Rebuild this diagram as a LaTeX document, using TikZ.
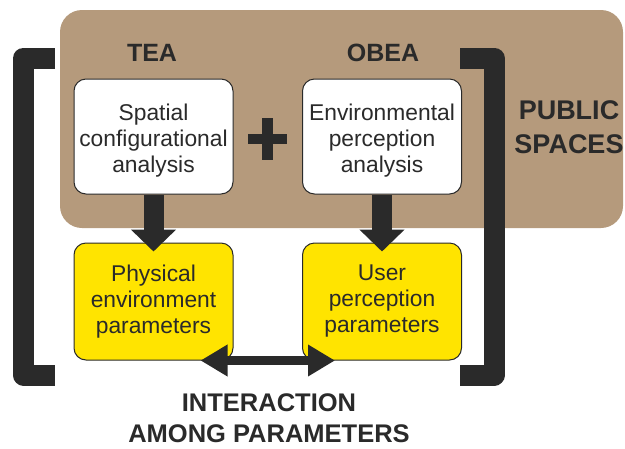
\documentclass[tikz,border=0pt]{standalone}
\usepackage{fontspec}
\setmainfont{Liberation Sans}
\usetikzlibrary{arrows.meta}
\definecolor{brownbg}{RGB}{181,154,124}
\definecolor{ink}{RGB}{42,42,42}
\definecolor{yel}{RGB}{255,228,0}
\newcommand{\tallstrut}{\rule{0pt}{25.5pt}}
\tikzset{
 box/.style={draw=ink, line width=1pt, rounded corners=12pt, minimum width=159pt, minimum height=115pt, align=center, text=ink, font=\fontsize{22.8}{26}\selectfont, inner sep=0pt},
 whitebox/.style={box, fill=white},
 yelbox/.style={box, fill=yel, minimum height=117pt},
 title/.style={font=\bfseries\fontsize{25}{30}\selectfont, text=ink, align=center},
 bigtitle/.style={font=\bfseries\fontsize{27}{34}\selectfont, text=ink, align=center},
 bracket/.style={draw=ink, line width=21pt, line join=round},
 blockarrow/.style={draw=ink, line width=20pt, -{Triangle[width=44pt,length=22pt]}},
 linkarrow/.style={draw=ink, line width=9pt, {Triangle[width=30pt,length=27pt]}-{Triangle[width=30pt,length=27pt]}},
 plusbar/.style={draw=ink, line width=10.5pt},
}
\begin{document}
\begin{tikzpicture}[x=1pt,y=-1pt]
\useasboundingbox (0,0) rectangle (625,448);
% background
\fill[brownbg, rounded corners=22pt] (60,10) rectangle (623,228);
% brackets
\draw[bracket] (55,58) -- (23.5,58) -- (23.5,375) -- (55,375);
\draw[bracket] (460,58) -- (494,58) -- (494,375) -- (460,375);
% titles
\node[title] (tea) at (152,53) {TEA};
\node[title] (obea) at (383,53) {OBEA};
\node[bigtitle] (public) at (569,127) {PUBLIC\\SPACES};
% boxes
\node[whitebox] (spatial) at (153.5,136.5) {\tallstrut Spatial\\configurational\\analysis};
\node[whitebox] (envper) at (382,136.5) {\tallstrut Environmental\\perception\\analysis};
\node[yelbox] (phys) at (153.5,301.5) {Physical\\environment\\parameters};
\node[yelbox] (user) at (382,301.5) {User\\perception\\parameters};
% plus
\coordinate (plus) at (267.5,139);
\draw[plusbar] ([xshift=-19.5pt]plus) -- ([xshift=19.5pt]plus);
\draw[plusbar] ([yshift=21pt]plus) -- ([yshift=-21pt]plus);
% arrows
\draw[blockarrow] (spatial.south) -- ([yshift=-9pt]phys.north);
\draw[blockarrow] (envper.south) -- ([yshift=-9pt]user.north);
\draw[linkarrow] ([xshift=-33pt]phys.south east) -- ([xshift=33pt]user.south west);
% bottom label
\node[title, font=\bfseries\fontsize{25.5}{31}\selectfont] (inter) at (269,418) {INTERACTION\\AMONG PARAMETERS};
\end{tikzpicture}
\end{document}
